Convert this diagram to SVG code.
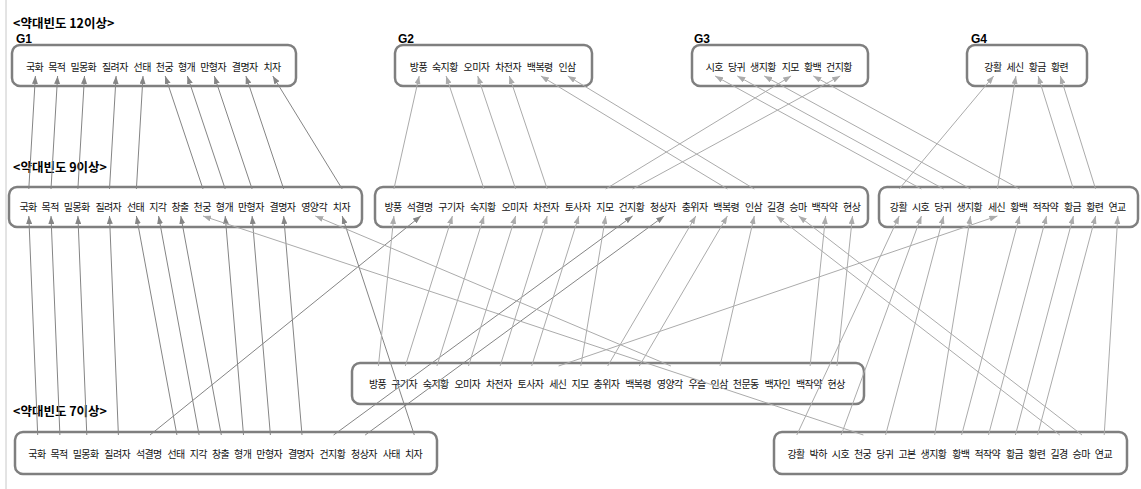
<svg xmlns="http://www.w3.org/2000/svg" width="1141" height="489" viewBox="0 0 1141 489">
<style>
.bx{fill:#fff;stroke:#7f7f7f;stroke-width:2.5}
.t{font-family:"Noto Sans CJK KR","Malgun Gothic",sans-serif;font-size:10px;letter-spacing:-0.6px;fill:#111}
.h{font-family:"Noto Sans CJK KR",sans-serif;font-size:12.5px;font-weight:bold;fill:#000}
.g{font-family:"Liberation Sans",Arial,sans-serif;font-size:12px;font-weight:bold;fill:#000}
.d{stroke:#858585;stroke-width:1;marker-end:url(#ad)}
.l{stroke:#ababab;stroke-width:1;marker-end:url(#al)}
</style>
<defs>
<marker id="ad" markerUnits="userSpaceOnUse" markerWidth="8" markerHeight="6" refX="8" refY="3" orient="auto"><path d="M0,0 L8,3 L0,6 z" fill="#858585"/></marker>
<marker id="al" markerUnits="userSpaceOnUse" markerWidth="8" markerHeight="6" refX="8" refY="3" orient="auto"><path d="M0,0 L8,3 L0,6 z" fill="#ababab"/></marker>
</defs>
<rect width="1141" height="489" fill="#fff"/>
<line x1="6" y1="0" x2="6" y2="489" stroke="#c8c8c8" stroke-width="1"/>
<g id="headings">
<text class="h" x="13" y="27.5">&lt;약대빈도 12이상&gt;</text>
<text class="h" x="13" y="172">&lt;약대빈도 9이상&gt;</text>
<text class="h" x="13" y="416">&lt;약대빈도 7이상&gt;</text>
</g>
<g id="G1"><text class="g" x="16" y="43">G1</text><rect class="bx" x="12" y="45" width="284" height="41" rx="8"/><text class="t" y="71"><tspan x="26">국화 </tspan><tspan x="48.2">목적 </tspan><tspan x="70.4">밀몽화 </tspan><tspan x="102">질려자 </tspan><tspan x="133.6">선태 </tspan><tspan x="155.8">천궁 </tspan><tspan x="178">형개 </tspan><tspan x="200.2">만형자 </tspan><tspan x="231.8">결명자 </tspan><tspan x="263.4">치자</tspan></text></g>
<g id="G2"><text class="g" x="398" y="43">G2</text><rect class="bx" x="395" y="45" width="197" height="41" rx="8"/><text class="t" y="71"><tspan x="409.8">방풍 </tspan><tspan x="432">숙지황 </tspan><tspan x="463.6">오미자 </tspan><tspan x="495.2">차전자 </tspan><tspan x="526.8">백복령 </tspan><tspan x="558.4">인삼</tspan></text></g>
<g id="G3"><text class="g" x="694" y="43">G3</text><rect class="bx" x="692" y="45" width="176" height="41" rx="8"/><text class="t" y="71"><tspan x="705.7">시호 </tspan><tspan x="727.9">당귀 </tspan><tspan x="750.1">생지황 </tspan><tspan x="781.7">지모 </tspan><tspan x="803.9">황백 </tspan><tspan x="826.1">건지황</tspan></text></g>
<g id="G4"><text class="g" x="971" y="43">G4</text><rect class="bx" x="967" y="45" width="120" height="41" rx="8"/><text class="t" y="71"><tspan x="984.3">강활 </tspan><tspan x="1006.5">세신 </tspan><tspan x="1028.7">황금 </tspan><tspan x="1050.9">황련</tspan></text></g>
<g id="r2a"><rect class="bx" x="9" y="187" width="353" height="40" rx="8"/><text class="t" y="211"><tspan x="19.4">국화 </tspan><tspan x="41.6">목적 </tspan><tspan x="63.8">밀몽화 </tspan><tspan x="95.4">질려자 </tspan><tspan x="127">선태 </tspan><tspan x="149.2">지각 </tspan><tspan x="171.4">창출 </tspan><tspan x="193.6">천궁 </tspan><tspan x="215.8">형개 </tspan><tspan x="238">만형자 </tspan><tspan x="269.6">결명자 </tspan><tspan x="301.2">영양각 </tspan><tspan x="332.8">치자</tspan></text></g>
<g id="r2b"><rect class="bx" x="375" y="187" width="493" height="40" rx="8"/><text class="t" y="211"><tspan x="384.5">방풍 </tspan><tspan x="406.7">석결명 </tspan><tspan x="438.3">구기자 </tspan><tspan x="469.9">숙지황 </tspan><tspan x="501.5">오미자 </tspan><tspan x="533.1">차전자 </tspan><tspan x="564.7">토사자 </tspan><tspan x="596.3">지모 </tspan><tspan x="618.5">건지황 </tspan><tspan x="650.1">청상자 </tspan><tspan x="681.7">충위자 </tspan><tspan x="713.3">백복령 </tspan><tspan x="744.9">인삼 </tspan><tspan x="767.1">길경 </tspan><tspan x="789.3">승마 </tspan><tspan x="811.5">백작약 </tspan><tspan x="843.1">현상</tspan></text></g>
<g id="r2c"><rect class="bx" x="879" y="187" width="259" height="40" rx="8"/><text class="t" y="211"><tspan x="889.8">강활 </tspan><tspan x="912">시호 </tspan><tspan x="934.2">당귀 </tspan><tspan x="956.4">생지황 </tspan><tspan x="988">세신 </tspan><tspan x="1010.2">황백 </tspan><tspan x="1032.4">적작약 </tspan><tspan x="1064">황금 </tspan><tspan x="1086.2">황련 </tspan><tspan x="1108.4">연교</tspan></text></g>
<g id="mid"><rect class="bx" x="352" y="363" width="512" height="41" rx="8"/><text class="t" y="387.5"><tspan x="369">방풍 </tspan><tspan x="391.2">구기자 </tspan><tspan x="422.8">숙지황 </tspan><tspan x="454.4">오미자 </tspan><tspan x="486">차전자 </tspan><tspan x="517.6">토사자 </tspan><tspan x="549.2">세신 </tspan><tspan x="571.4">지모 </tspan><tspan x="593.6">충위자 </tspan><tspan x="625.2">백복령 </tspan><tspan x="656.8">영양각 </tspan><tspan x="688.4">우슬 </tspan><tspan x="710.6">인삼 </tspan><tspan x="732.8">천문동 </tspan><tspan x="764.4">백자인 </tspan><tspan x="796">백작약 </tspan><tspan x="827.6">현상</tspan></text></g>
<g id="r4a"><rect class="bx" x="15" y="432" width="422" height="42" rx="8"/><text class="t" y="458"><tspan x="28.3">국화 </tspan><tspan x="50.5">목적 </tspan><tspan x="72.7">밀몽화 </tspan><tspan x="104.3">질려자 </tspan><tspan x="135.9">석결명 </tspan><tspan x="167.5">선태 </tspan><tspan x="189.7">지각 </tspan><tspan x="211.9">창출 </tspan><tspan x="234.1">형개 </tspan><tspan x="256.3">만형자 </tspan><tspan x="287.9">결명자 </tspan><tspan x="319.5">건지황 </tspan><tspan x="351.1">청상자 </tspan><tspan x="382.7">사태 </tspan><tspan x="404.9">치자</tspan></text></g>
<g id="r4b"><rect class="bx" x="774" y="432" width="353" height="42" rx="8"/><text class="t" y="458"><tspan x="787.4">강활 </tspan><tspan x="809.6">박하 </tspan><tspan x="831.8">시호 </tspan><tspan x="854">천궁 </tspan><tspan x="876.2">당귀 </tspan><tspan x="898.4">고본 </tspan><tspan x="920.6">생지황 </tspan><tspan x="952.2">황백 </tspan><tspan x="974.4">적작약 </tspan><tspan x="1006">황금 </tspan><tspan x="1028.2">황련 </tspan><tspan x="1050.4">길경 </tspan><tspan x="1072.6">승마 </tspan><tspan x="1094.8">연교</tspan></text></g>
<g id="connectors">
<line class="d" x1="28.8" y1="189" x2="35.4" y2="76"/>
<line class="d" x1="51" y1="189" x2="57.6" y2="76"/>
<line class="d" x1="77.9" y1="189" x2="84.5" y2="76"/>
<line class="d" x1="109.5" y1="189" x2="116.1" y2="76"/>
<line class="d" x1="136.4" y1="189" x2="143" y2="76"/>
<line class="d" x1="203" y1="189" x2="165.2" y2="76"/>
<line class="d" x1="225.2" y1="189" x2="187.4" y2="76"/>
<line class="d" x1="252.1" y1="189" x2="214.3" y2="76"/>
<line class="d" x1="283.7" y1="189" x2="245.9" y2="76"/>
<line class="d" x1="342.2" y1="189" x2="272.8" y2="76"/>
<line class="d" x1="37.7" y1="435" x2="28.8" y2="216"/>
<line class="d" x1="59.9" y1="435" x2="51" y2="216"/>
<line class="d" x1="86.8" y1="435" x2="77.9" y2="216"/>
<line class="d" x1="118.4" y1="435" x2="109.5" y2="216"/>
<line class="d" x1="150" y1="435" x2="420.8" y2="216"/>
<line class="d" x1="176.9" y1="435" x2="136.4" y2="216"/>
<line class="d" x1="199.1" y1="435" x2="158.6" y2="216"/>
<line class="d" x1="221.3" y1="435" x2="180.8" y2="216"/>
<line class="d" x1="243.5" y1="435" x2="225.2" y2="216"/>
<line class="d" x1="270.4" y1="435" x2="252.1" y2="216"/>
<line class="d" x1="302" y1="435" x2="283.7" y2="216"/>
<line class="d" x1="333.6" y1="435" x2="632.6" y2="216"/>
<line class="d" x1="365.2" y1="435" x2="664.2" y2="216"/>
<line class="d" x1="414.3" y1="435" x2="342.2" y2="216"/>
<line class="l" x1="393.9" y1="189" x2="419.2" y2="76"/>
<line class="l" x1="484" y1="189" x2="446.1" y2="76"/>
<line class="l" x1="515.6" y1="189" x2="477.7" y2="76"/>
<line class="l" x1="547.2" y1="189" x2="509.3" y2="76"/>
<line class="l" x1="727.4" y1="189" x2="540.9" y2="76"/>
<line class="l" x1="754.3" y1="189" x2="567.8" y2="76"/>
<line class="l" x1="605.7" y1="189" x2="791.1" y2="76"/>
<line class="l" x1="632.6" y1="189" x2="840.2" y2="76"/>
<line class="l" x1="921.4" y1="189" x2="715.1" y2="76"/>
<line class="l" x1="943.6" y1="189" x2="737.3" y2="76"/>
<line class="l" x1="970.5" y1="189" x2="764.2" y2="76"/>
<line class="l" x1="1019.6" y1="189" x2="813.3" y2="76"/>
<line class="l" x1="899.2" y1="189" x2="993.7" y2="76"/>
<line class="l" x1="997.4" y1="189" x2="1015.9" y2="76"/>
<line class="l" x1="1073.4" y1="189" x2="1038.1" y2="76"/>
<line class="l" x1="1095.6" y1="189" x2="1060.3" y2="76"/>
<line class="l" x1="378.4" y1="366" x2="393.9" y2="216"/>
<line class="l" x1="405.3" y1="366" x2="452.4" y2="216"/>
<line class="l" x1="436.9" y1="366" x2="484" y2="216"/>
<line class="l" x1="468.5" y1="366" x2="515.6" y2="216"/>
<line class="l" x1="500.1" y1="366" x2="547.2" y2="216"/>
<line class="l" x1="531.7" y1="366" x2="578.8" y2="216"/>
<line class="l" x1="558.6" y1="366" x2="997.4" y2="216"/>
<line class="l" x1="580.8" y1="366" x2="605.7" y2="216"/>
<line class="l" x1="607.7" y1="366" x2="695.8" y2="216"/>
<line class="l" x1="639.3" y1="366" x2="727.4" y2="216"/>
<line class="l" x1="670.9" y1="366" x2="315.3" y2="216"/>
<line class="l" x1="720" y1="366" x2="754.3" y2="216"/>
<line class="l" x1="810.1" y1="366" x2="825.6" y2="216"/>
<line class="l" x1="837" y1="366" x2="852.5" y2="216"/>
<line class="l" x1="796.8" y1="435" x2="899.2" y2="216"/>
<line class="l" x1="841.2" y1="435" x2="921.4" y2="216"/>
<line class="l" x1="863.4" y1="435" x2="203" y2="216"/>
<line class="l" x1="885.6" y1="435" x2="943.6" y2="216"/>
<line class="l" x1="934.7" y1="435" x2="970.5" y2="216"/>
<line class="l" x1="961.6" y1="435" x2="1019.6" y2="216"/>
<line class="l" x1="988.5" y1="435" x2="1046.5" y2="216"/>
<line class="l" x1="1015.4" y1="435" x2="1073.4" y2="216"/>
<line class="l" x1="1037.6" y1="435" x2="1095.6" y2="216"/>
<line class="l" x1="1059.8" y1="435" x2="776.5" y2="216"/>
<line class="l" x1="1082" y1="435" x2="798.7" y2="216"/>
<line class="l" x1="1104.2" y1="435" x2="1117.8" y2="216"/>
</g>
</svg>
